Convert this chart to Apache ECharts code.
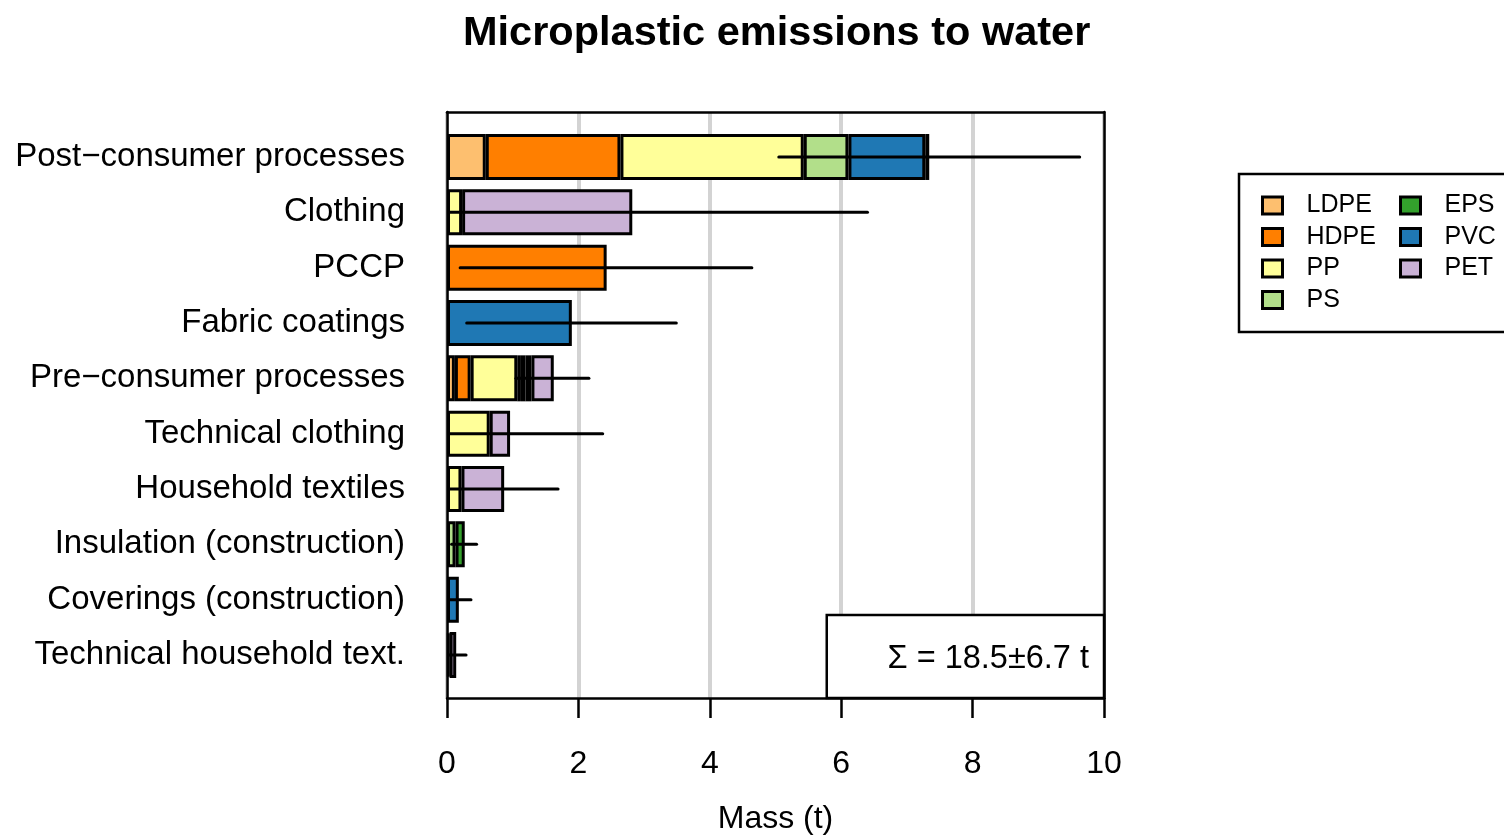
<!DOCTYPE html>
<html>
<head>
<meta charset="utf-8">
<script src="https://cdn.jsdelivr.net/npm/echarts@6/dist/echarts.min.js"></script>
<style>
html,body{margin:0;padding:0;background:#fff;}
#c{width:1504px;height:836px;}
</style>
</head>
<body>
<div id="c"></div>
<script>
const categories = ['Post\u2212consumer processes','Clothing','PCCP','Fabric coatings','Pre\u2212consumer processes','Technical clothing','Household textiles','Insulation (construction)','Coverings (construction)','Technical household text.'];
const polymers = ['LDPE','HDPE','PP','PS','EPS','PVC','PET'];
const polymerColors = ['#FDBF6F','#FF7F00','#FFFF99','#B2DF8A','#33A02C','#1F78B4','#CAB2D6'];
const LDPE = [0.59,'-','-','-',0.12,'-','-','-','-','-'];
const HDPE = [2.05,'-',2.43,'-',0.24,'-','-','-','-','-'];
const PP   = [2.79,0.23,'-','-',0.71,0.65,0.22,'-','-',0.04];
const PS   = [0.68,'-','-','-',0.055,'-','-',0.13,'-','-'];
const EPS  = ['-','-','-','-',0.07,'-','-',0.14,'-','-'];
const PVC  = [1.17,'-','-',1.90,0.09,'-','-','-',0.18,'-'];
const PET  = [0.06,2.59,'-','-',0.34,0.31,0.65,'-','-',0.10];
const errLow  = [5.05,0.03,0.20,0.30,1.05,0.03,0.03,0.07,0.03,0.03];
const errHigh = [9.63,6.40,4.64,3.49,2.16,2.37,1.69,0.45,0.365,0.29];
const xTicks = [0,2,4,6,8,10];
const titleText = 'Microplastic emissions to water';
const xAxisTitle = 'Mass (t)';
const sumLabel = '\u03A3 = 18.5\u00B16.7 t';
const sumBoxFrom = 5.78;
const legendCol1 = ['LDPE','HDPE','PP','PS'];
const legendCol2 = ['EPS','PVC','PET'];

const seriesValues = [LDPE,HDPE,PP,PS,EPS,PVC,PET];
const FONT = '"Liberation Sans", Arial, Helvetica, sans-serif';
const chart = echarts.init(document.getElementById('c'), null, {renderer:'canvas'});

const barSeries = polymers.map((p,i)=>({
  name:p, type:'bar', stack:'total', xAxisIndex:2, yAxisIndex:2,
  barWidth:46, z:2,
  itemStyle:{color:polymerColors[i], borderColor:'#000', borderWidth:3},
  emphasis:{disabled:true},
  data: seriesValues[i]
}));

const errSeries = {
  type:'custom', xAxisIndex:2, yAxisIndex:2, z:5, silent:true,
  encode:{x:[0,1], y:2},
  data: categories.map((c,i)=>[errLow[i], errHigh[i], i]),
  renderItem:function(params, api){
    const idx = api.value(2);
    const p1 = api.coord([api.value(0), idx]);
    const p2 = api.coord([api.value(1), idx]);
    return {type:'line', shape:{x1:p1[0], y1:p1[1], x2:p2[0], y2:p2[1]},
      style:{stroke:'#000', lineWidth:3, lineCap:'round'}};
  }
};

const legendCommon = {
  orient:'vertical', padding:0, itemWidth:20, itemHeight:17, itemGap:6.5,
  selectedMode:false, icon:'rect',
  itemStyle:{borderColor:'#000', borderWidth:3},
  textStyle:{fontFamily:FONT, fontSize:25, color:'#000', lineHeight:25, padding:[0,0,0,19]}
};

const option = {
  backgroundColor:'#fff',
  animation:false,
  title:{text:titleText, left:463, top:13, padding:0,
    textStyle:{fontFamily:FONT, fontSize:41.5, fontWeight:'bold', color:'#000'}},
  legend:[
    Object.assign({}, legendCommon, {left:1261, top:193, data:legendCol1}),
    Object.assign({}, legendCommon, {left:1399, top:193, data:legendCol2})
  ],
  grid:[
    {left:447, right:400, top:112, bottom:138, outerBoundsMode:'none', containLabel:false},
    {left:447, right:400, top:129.3, bottom:153.3, outerBoundsMode:'none', containLabel:false}
  ],
  xAxis:[
    {type:'value', gridIndex:0, min:xTicks[0], max:xTicks[xTicks.length-1], interval:2, position:'bottom',
     axisLine:{show:true, lineStyle:{color:'#000', width:2.5}},
     axisTick:{show:true, length:20, lineStyle:{color:'#000', width:2.5}},
     axisLabel:{fontFamily:FONT, fontSize:32, color:'#000', margin:50},
     splitLine:{show:true, lineStyle:{color:'#d3d3d3', width:4}},
     name:xAxisTitle, nameLocation:'middle', nameGap:105,
     nameTextStyle:{fontFamily:FONT, fontSize:32, color:'#000'}, z:1},
    {type:'value', gridIndex:0, min:0, max:10, position:'top',
     axisLine:{show:true, onZero:false, lineStyle:{color:'#000', width:2.5}},
     axisTick:{show:false}, axisLabel:{show:false}, splitLine:{show:false}, z:6},
    {type:'value', gridIndex:1, min:0, max:10, show:false}
  ],
  yAxis:[
    {type:'value', gridIndex:0, min:0, max:1, position:'left',
     axisLine:{show:true, onZero:false, lineStyle:{color:'#000', width:2.5}},
     axisTick:{show:false}, axisLabel:{show:false}, splitLine:{show:false}, z:6},
    {type:'value', gridIndex:0, min:0, max:1, position:'right',
     axisLine:{show:true, onZero:false, lineStyle:{color:'#000', width:2.5}},
     axisTick:{show:false}, axisLabel:{show:false}, splitLine:{show:false}, z:6},
    {type:'category', gridIndex:1, data:categories, inverse:true,
     axisLine:{show:false}, axisTick:{show:false},
     axisLabel:{fontFamily:FONT, fontSize:33, color:'#000', margin:42}}
  ],
  series: barSeries.concat([errSeries])
};
chart.setOption(option);

// annotation box and legend frame
const bx = chart.convertToPixel({xAxisIndex:0}, sumBoxFrom);
const bxEnd = chart.convertToPixel({xAxisIndex:0}, xTicks[xTicks.length-1]);
const plotBottom = chart.convertToPixel({yAxisIndex:0}, 0);
chart.setOption({
  graphic:[
    {type:'rect', z:10, shape:{x:bx, y:plotBottom-83, width:bxEnd-bx, height:83},
     style:{fill:'#fff', stroke:'#000', lineWidth:2.5}},
    {type:'text', z:11, style:{x:bxEnd-15, y:plotBottom-39, text:sumLabel, align:'right', verticalAlign:'middle',
      font:'32.5px ' + FONT, fill:'#000'}},
    {type:'rect', z:10, shape:{x:1239, y:174, width:320, height:158},
     style:{fill:'none', stroke:'#000', lineWidth:2.5}}
  ]
});
</script>
</body>
</html>
